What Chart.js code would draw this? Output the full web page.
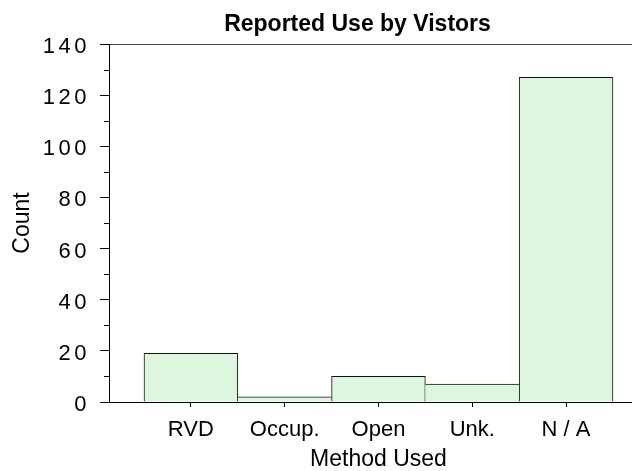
<!DOCTYPE html>
<html>
<head>
<meta charset="utf-8">
<script src="https://cdn.jsdelivr.net/npm/chart.js@4.4.1/dist/chart.umd.min.js"></script>
<style>
  body { margin: 0; background: #fff; }
  #usageChart { display: block; }
</style>
</head>
<body>
<canvas id="usageChart" width="632" height="471"></canvas>
<script>
const methods = ["RVD", "Occup.", "Open", "Unk.", "N / A"];
const counts = [19, 2, 10, 7, 127];
const minorTicks = [10, 30, 50, 70, 90, 110, 130];

const fontFamily = "'Liberation Sans', Arial, sans-serif";

// bars sit on a linear axis so the empty strip left of the first bar can be kept
const positions = methods.map((m, i) => i + 1);

// wrap one of a scale's draw steps with a small canvas tweak
function wrapDraw(scale, name, tweak) {
  const orig = scale[name];
  scale[name] = function (area) {
    this.ctx.save();
    tweak(this.ctx);
    orig.call(this, area);
    this.ctx.restore();
  };
}

const minorTickPlugin = {
  id: "minorTicks",
  beforeDraw(chart) {
    if (!chart._wrapped) {
      wrapDraw(chart.scales.y, "drawLabels", (ctx) => {
        ctx.letterSpacing = "3.5px";
      });
      wrapDraw(chart.scales.x, "drawTitle", (ctx) => {
        ctx.translate(8, 0);
      });
      chart._wrapped = true;
    }
  },
  afterDraw(chart) {
    const ctx = chart.ctx;
    const y = chart.scales.y;
    const left = chart.chartArea.left;
    ctx.save();
    ctx.strokeStyle = "#000";
    ctx.lineWidth = 1;
    minorTicks.forEach((v) => {
      const py = Math.round(y.getPixelForValue(v)) + 0.5;
      ctx.beginPath();
      ctx.moveTo(left - 5, py);
      ctx.lineTo(left, py);
      ctx.stroke();
    });
    ctx.restore();
  },
  afterLayout(chart) {
    // title sits a little right of the canvas centre
    chart.titleBlock.left = 83;
  },
};

const usageChart = document.getElementById("usageChart");

new Chart(usageChart, {
  type: "bar",
  data: {
    datasets: [
      {
        data: counts.map((c, i) => ({ x: positions[i], y: c })),
        backgroundColor: "rgb(222, 245, 222)",
        borderColor: "#111",
        borderWidth: (ctx) => {
          const i = ctx.dataIndex;
          const last = counts.length - 1;
          return {
            top: 1,
            left: i === 0 || counts[i - 1] <= counts[i] ? 1 : 0,
            right: i === last || counts[i + 1] < counts[i] ? 1 : 0,
            bottom: 0,
          };
        },
        categoryPercentage: 1,
        barPercentage: 1,
      },
    ],
  },
  options: {
    responsive: false,
    animation: false,
    events: [],
    plugins: {
      legend: { display: false },
      tooltip: { enabled: false },
      title: {
        display: true,
        text: "Reported Use by Vistors",
        color: "#000",
        font: { family: fontFamily, size: 23, weight: "bold", lineHeight: 1 },
        padding: { top: 13, bottom: 8 },
      },
    },
    scales: {
      x: {
        type: "linear",
        offset: false,
        min: 0.127,
        max: 5.703,
        afterFit: (s) => {
          s.height = 69;
        },
        afterBuildTicks: (s) => {
          s.ticks = positions.map((p) => ({ value: p }));
        },
        grid: {
          offset: false,
          drawOnChartArea: false,
          drawTicks: true,
          tickLength: 5,
          tickColor: "#000",
        },
        border: { display: true, color: "#000", width: 1 },
        ticks: {
          color: "#000",
          font: { family: fontFamily, size: 22, lineHeight: 1 },
          padding: 12,
          maxRotation: 0,
          autoSkip: false,
          callback: (v) => methods[v - 1],
        },
        title: {
          display: true,
          text: "Method Used",
          color: "#000",
          font: { family: fontFamily, size: 23, lineHeight: 1 },
          padding: { top: 0, bottom: 0 },
        },
      },
      y: {
        min: 0,
        max: 140,
        afterFit: (s) => {
          s.width = 109;
        },
        grid: {
          drawOnChartArea: true,
          drawTicks: true,
          tickLength: 9,
          color: (ctx) => (ctx.tick && ctx.tick.value === 140 ? "#444" : "rgba(0,0,0,0)"),
          tickColor: "#000",
        },
        border: { display: true, color: "#000", width: 1 },
        ticks: {
          stepSize: 20,
          color: "#000",
          font: { family: fontFamily, size: 22, lineHeight: 1 },
          padding: 10,
          labelOffset: 3,
        },
        title: {
          display: true,
          text: "Count",
          color: "#000",
          font: { family: fontFamily, size: 23, lineHeight: 1 },
          padding: { top: 11, bottom: 0 },
        },
      },
    },
  },
  plugins: [minorTickPlugin],
});
</script>
</body>
</html>
